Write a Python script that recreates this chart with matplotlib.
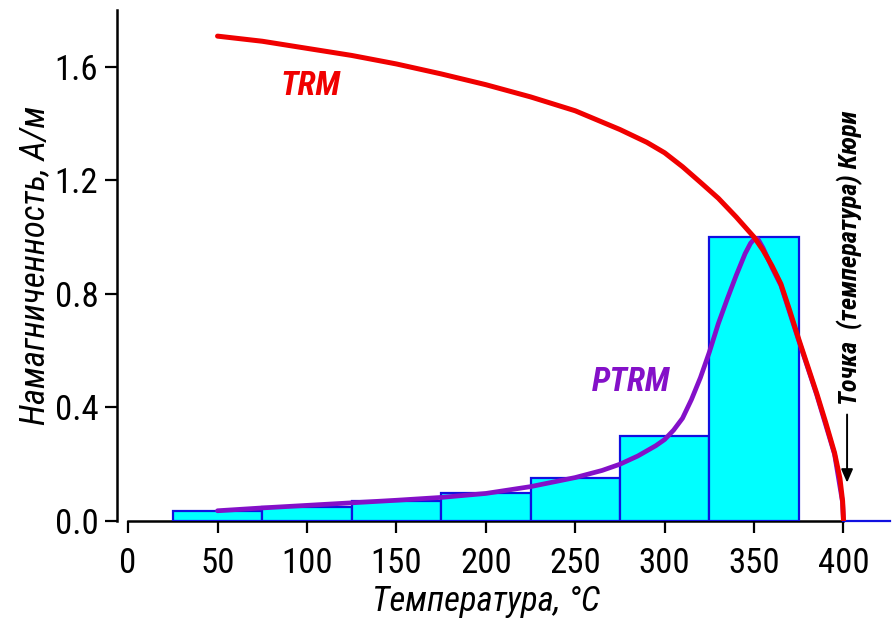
import matplotlib
matplotlib.use("Agg")
import matplotlib.pyplot as plt
import matplotlib.transforms as mtransforms

plt.rcParams["font.family"] = ["Roboto Condensed", "DejaVu Sans Condensed",
                               "Liberation Sans Narrow", "DejaVu Sans"]
plt.rcParams["font.stretch"] = "condensed"

# Partial TRM acquired in each 50-degree heating step (bin centres, A/m)
step_centres = [50, 100, 150, 200, 250, 300, 350]
step_ptrm = [0.035, 0.05, 0.07, 0.10, 0.15, 0.30, 1.0]

# Total thermoremanent magnetisation versus temperature
trm_temp = [50, 75, 100, 125, 150, 175, 200, 225, 250, 275, 290, 300, 310, 320,
            330, 340, 350, 355, 360, 365, 370, 375, 380, 385, 390, 395, 398,
            399.5, 400]
trm_mag = [1.708, 1.690, 1.665, 1.640, 1.610, 1.575, 1.537, 1.494, 1.445, 1.379,
           1.334, 1.297, 1.248, 1.193, 1.137, 1.071, 1.000, 0.954, 0.899, 0.835,
           0.740, 0.640, 0.545, 0.450, 0.348, 0.240, 0.150, 0.070, 0.0]

# Smoothed PTRM spectrum
ptrm_temp = [50, 75, 100, 125, 150, 175, 200, 225, 250, 265, 275, 285, 295, 300,
             305, 310, 315, 320, 325, 330, 335, 340, 345, 348, 350, 352, 355, 360,
             365, 375, 385, 395, 399.5, 400]
ptrm_mag = [0.036, 0.046, 0.055, 0.064, 0.073, 0.083, 0.097, 0.121, 0.153, 0.178,
            0.200, 0.229, 0.265, 0.287, 0.320, 0.362, 0.428, 0.505, 0.595, 0.695,
            0.782, 0.865, 0.942, 0.978, 0.993, 0.995, 0.962, 0.893, 0.830, 0.635,
            0.445, 0.235, 0.065, 0.0]

curie_temp = 400
x_ticks = [0, 50, 100, 150, 200, 250, 300, 350, 400]
y_ticks = [0.0, 0.4, 0.8, 1.2, 1.6]

CYAN = "#00ffff"
BLUE = "#1010e0"
RED = "#f00000"
PURPLE = "#8410c8"

fig = plt.figure(figsize=(8.96, 6.22), dpi=100)
ax = fig.add_axes([0.1306, 0.1624, 0.8627, 0.8215])
x_min, x_max = -6.2, 426
ax.set_xlim(x_min, x_max)
ax.set_ylim(0, 1.8)

ax.bar(step_centres, step_ptrm, width=50, color=CYAN, edgecolor=BLUE,
       linewidth=1.6, zorder=3)
ax.plot([curie_temp, x_max], [0, 0], color=BLUE, lw=1.6, zorder=3, clip_on=False)

ax.plot(ptrm_temp, ptrm_mag, color=PURPLE, lw=3.4, zorder=4,
        solid_capstyle="round", solid_joinstyle="round")
ax.plot(trm_temp, trm_mag, color=RED, lw=3.6, zorder=5,
        solid_capstyle="round", solid_joinstyle="round")

ax.text(102, 1.533, "TRM", color=RED, fontsize=24, fontweight="bold",
        fontstyle="italic", ha="center", va="center")
ax.text(281, 0.489, "PTRM", color=PURPLE, fontsize=24, fontweight="bold",
        fontstyle="italic", ha="center", va="center")
ax.text(curie_temp + 3.5, 0.928, "Точка  (температура) Кюри", rotation=90,
        fontsize=19, fontweight="bold", fontstyle="italic",
        ha="center", va="center", color="black")
ax.annotate("", xy=(curie_temp + 2, 0.135), xytext=(curie_temp + 2, 0.375),
            arrowprops=dict(arrowstyle="-|>,head_length=0.8,head_width=0.35",
                            color="black", lw=1.4, shrinkA=0, shrinkB=0))

for side in ("top", "right"):
    ax.spines[side].set_visible(False)
ax.spines["bottom"].set_bounds(0, curie_temp)
for side in ("left", "bottom"):
    ax.spines[side].set_linewidth(1.8)
    ax.spines[side].set_color("black")

ax.set_xticks(x_ticks)
ax.set_yticks(y_ticks)
ax.set_yticklabels([f"{v:.1f}" for v in y_ticks])
ax.tick_params(axis="both", direction="out", length=8.5, width=1.6,
               labelsize=25, colors="black")
ax.tick_params(axis="x", pad=10)
ax.tick_params(axis="y", pad=5)

ax.set_xlabel("Температура, °C", fontsize=25, fontstyle="italic")
ax.xaxis.set_label_coords(
    200, -0.125, transform=mtransforms.blended_transform_factory(ax.transData, ax.transAxes))
ax.set_ylabel("Намагниченность, А/м", fontsize=25, fontstyle="italic")
ax.yaxis.set_label_coords(-0.085, 0.5)

fig.savefig("out.png", dpi=100)
